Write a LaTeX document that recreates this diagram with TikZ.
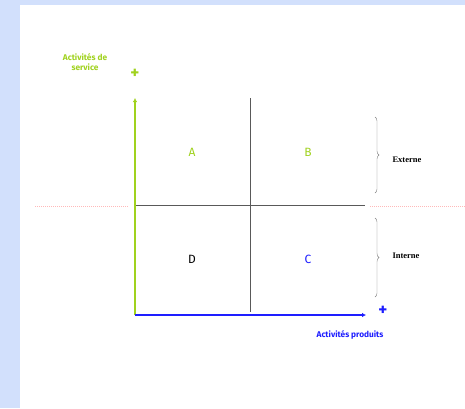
\documentclass[tikz,border=0pt]{standalone}
\usepackage{fontspec}
\setsansfont{Fira Sans}
\setmainfont{Liberation Serif}
\usetikzlibrary{positioning, arrows.meta, decorations.pathreplacing}
\definecolor{fond}{RGB}{210,224,252}
\definecolor{vertS}{RGB}{160,210,30}
\definecolor{bleuP}{RGB}{30,30,255}
\definecolor{rougeL}{RGB}{255,185,185}
\tikzset{
AxeStyle/.style  ={line width=1.8pt, -{Latex[length=4pt,width=4.5pt]}},
GrilleStyle/.style ={gray!70!black, line width=0.6pt},
PointilleStyle/.style ={rougeL, line width=0.5pt, dash pattern=on 1pt off 1pt},
AccoladeStyle/.style ={gray, line width=0.4pt, decorate,
                       decoration={brace, amplitude=4pt}},
LettreStyle/.style ={font=\sffamily\fontsize{12}{14}\selectfont},
PlusStyle/.style ={font=\sffamily\bfseries\fontsize{17}{17}\selectfont},
EtiquetteStyle/.style ={font=\sffamily\bfseries\fontsize{8.3}{10}\selectfont, align=center},
CoteStyle/.style ={font=\bfseries\fontsize{8.5}{10}\selectfont},
}
\begin{document}
\begin{tikzpicture}[x=1pt, y=-1pt]
\useasboundingbox (0,0) rectangle (465,408);
\fill[fond] (0,0) rectangle (465,408);
\fill[white] (20,5) rectangle (465,408);

\coordinate (O) at (135,315);
\coordinate (Yh) at (135,98);
\coordinate (Xd) at (366,315);
\coordinate (Mh) at (250,98);
\coordinate (Mb) at (250,312);
\coordinate (Hg) at (135,205);
\coordinate (Hd) at (365,205);

\begin{scope}[GrilleStyle]  % grille
\draw (Mh) -- (Mb);
\draw (Hg) -- (Hd);
\end{scope}

\begin{scope}[PointilleStyle]  % pointilles
\coordinate (Pg1) at (35,206);  \coordinate (Pg2) at (129,206);
\coordinate (Pd1) at (370,206); \coordinate (Pd2) at (465,206);
\draw (Pg1) -- (Pg2);
\draw (Pd1) -- (Pd2);
\end{scope}

\draw[AxeStyle, vertS] (O) -- (Yh);
\draw[AxeStyle, bleuP] (O) -- (Xd);

\node[PlusStyle, text=vertS] (plusY) at (135,74) {+};
\node[PlusStyle, text=bleuP] (plusX) at (383,311) {+};
\node[EtiquetteStyle, text=vertS] (labY) at (85,62) {Activités de\\service};
\node[EtiquetteStyle, text=bleuP] (labX) at (350,335) {Activités produits};

\node[LettreStyle, text=vertS] (A) at (192,152) {A};
\node[LettreStyle, text=vertS] (B) at (308,152) {B};
\node[LettreStyle, text=bleuP] (C) at (308,259) {C};
\node[LettreStyle] (D) at (192,259) {D};

\coordinate (E1) at (375,117); \coordinate (E2) at (375,193);
\coordinate (I1) at (375,218); \coordinate (I2) at (375,297);
\draw[AccoladeStyle] (E1) -- (E2);
\draw[AccoladeStyle] (I1) -- (I2);
\node[CoteStyle, right=14pt of E1, yshift=-43pt] (ext) {Externe};
\node[CoteStyle, right=14pt of I1, yshift=-38pt] (int) {Interne};
\end{tikzpicture}
\end{document}
